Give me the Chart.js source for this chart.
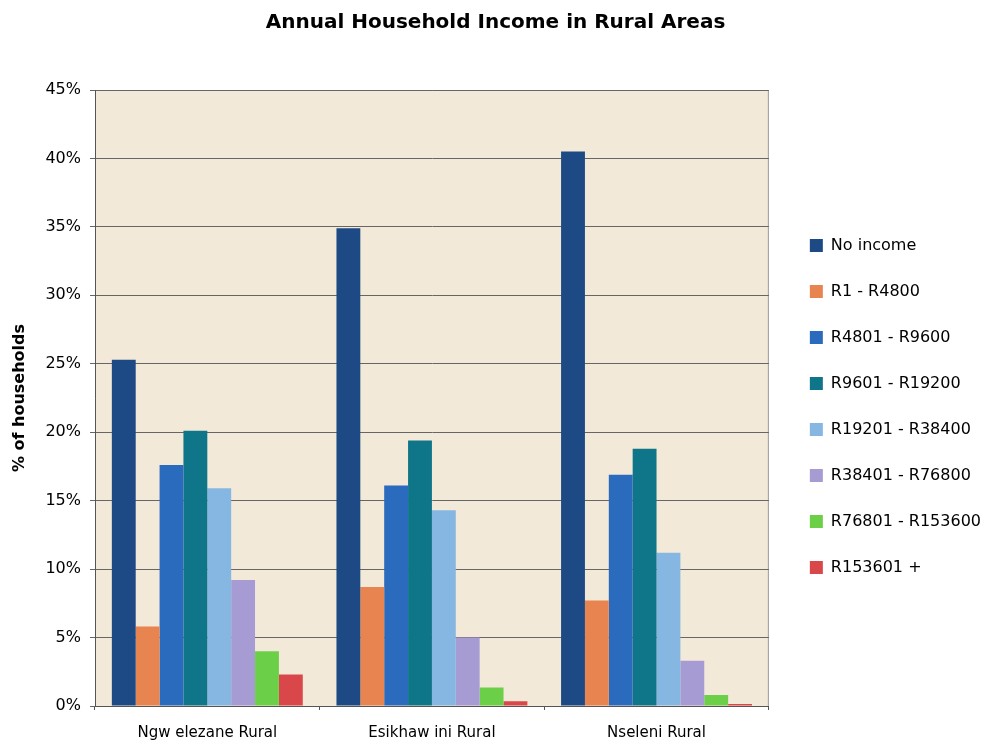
<!DOCTYPE html>
<html>
<head>
    <title>Annual Household Income in Rural Areas</title>
    <script src="https://cdn.jsdelivr.net/npm/chart.js"></script>
    <style>
        body { margin: 0; background: #ffffff; }
        #wrap { width: 991px; height: 746px; }
    </style>
</head>
<body>
    <div id="wrap"><canvas id="chartIncome" width="991" height="746"></canvas></div>

    <script>
        const areas = ["Ngw elezane Rural", "Esikhaw ini Rural", "Nseleni Rural"];
        const incomeBands = ["No income", "R1 - R4800", "R4801 - R9600", "R9601 - R19200",
                             "R19201 - R38400", "R38401 - R76800", "R76801 - R153600", "R153601 +"];

        // % of households, one array per income band (Ngwelezane, Esikhawini, Nseleni)
        const noIncome   = [25.3, 34.9, 40.5];
        const r1         = [5.8, 8.7, 7.7];
        const r4801      = [17.6, 16.1, 16.9];
        const r9601      = [20.1, 19.4, 18.8];
        const r19201     = [15.9, 14.3, 11.2];
        const r38401     = [9.2, 5.0, 3.3];
        const r76801     = [4.0, 1.35, 0.8];
        const r153601    = [2.3, 0.35, 0.15];

        const bandValues = [noIncome, r1, r4801, r9601, r19201, r38401, r76801, r153601];
        const bandColors = ["#1d4a85", "#e8844f", "#2a6bbd", "#0e7688", "#86b7e2", "#a79bd3", "#6ccf48", "#d9474a"];

        const FONT = "'DejaVu Sans', sans-serif";

        const plotBackground = {
            id: "plotBackground",
            beforeDraw(chart) {
                const a = chart.chartArea, ctx = chart.ctx;
                ctx.save();
                ctx.fillStyle = "#f3e9d9";
                ctx.fillRect(a.left, a.top, a.right - a.left, a.bottom - a.top);
                ctx.strokeStyle = "#9a9a9a";
                ctx.lineWidth = 1;
                ctx.strokeRect(a.left + 0.5, a.top + 0.5, a.right - a.left - 1, a.bottom - a.top);
                ctx.restore();
            }
        };

        const datasets = incomeBands.map((band, i) => ({
            label: band,
            data: bandValues[i],
            backgroundColor: bandColors[i],
            borderWidth: 0
        }));

        new Chart(document.getElementById("chartIncome"), {
            type: "bar",
            data: { labels: areas, datasets: datasets },
            options: {
                responsive: false,
                animation: false,
                layout: { padding: { left: 0, right: 0, top: 0, bottom: 0 } },
                datasets: { bar: { categoryPercentage: 0.85, barPercentage: 1.0 } },
                scales: {
                    x: {
                        afterFit: s => { s.height = 40; },
                        grid: { display: true, drawOnChartArea: false, offset: true, color: "#555", tickLength: 4 },
                        border: { color: "#555" },
                        ticks: { color: "#000", font: { family: FONT, size: 15 }, padding: 14 }
                    },
                    y: {
                        min: 0, max: 45,
                        afterFit: s => { s.width = 95; },
                        ticks: {
                            stepSize: 5,
                            color: "#000",
                            font: { family: FONT, size: 16 },
                            padding: 9,
                            callback: v => v + "%"
                        },
                        grid: { color: "#666", lineWidth: 1, tickLength: 5 },
                        border: { color: "#555" },
                        title: {
                            display: true,
                            text: "% of households",
                            color: "#000",
                            font: { family: FONT, size: 16, weight: "bold" },
                            padding: { top: 10, bottom: 0 }
                        }
                    },
                    yRight: {
                        position: "right",
                        min: 0, max: 45,
                        afterFit: s => { s.width = 11; },
                        ticks: { display: false },
                        grid: { display: false },
                        border: { display: false }
                    }
                },
                plugins: {
                    title: {
                        display: true,
                        text: "Annual Household Income in Rural Areas",
                        color: "#000",
                        font: { family: FONT, size: 20, weight: "bold" },
                        padding: { top: 11, bottom: 55 }
                    },
                    legend: {
                        position: "right",
                        maxWidth: 300,
                        title: { display: true, text: " ", font: { size: 1 }, padding: { top: 0, bottom: 66 } },
                        labels: {
                            color: "#000",
                            font: { family: FONT, size: 16 },
                            boxWidth: 13,
                            boxHeight: 13,
                            padding: 30
                        }
                    },
                    tooltip: { enabled: false }
                }
            },
            plugins: [plotBackground]
        });
    </script>
</body>
</html>
